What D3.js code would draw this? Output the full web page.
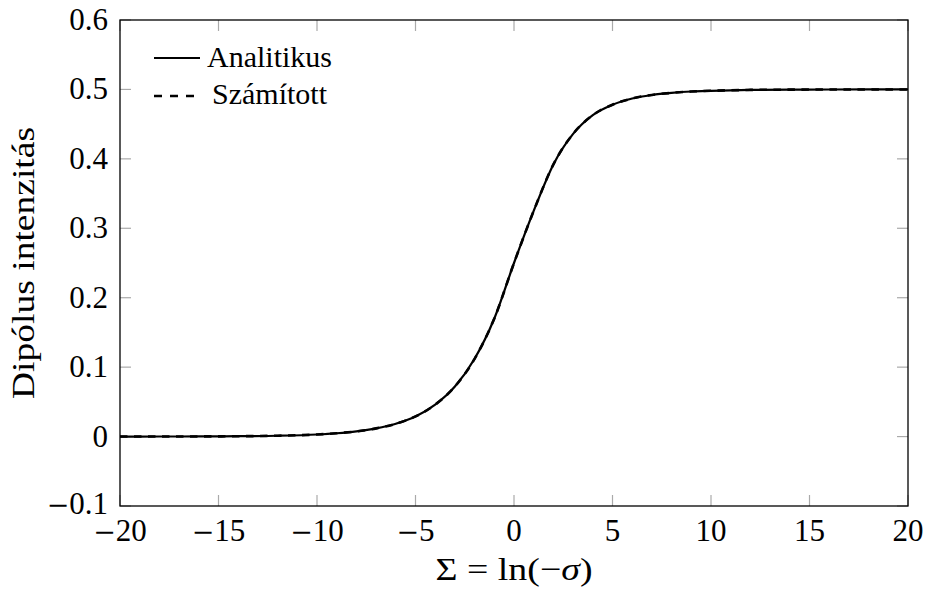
<!DOCTYPE html>
<html>
<head>
<meta charset="utf-8">
<script src="https://cdn.jsdelivr.net/npm/d3@7"></script>
<style>
  html, body { margin: 0; padding: 0; background: #fff; }
  svg { display: block; }
  text { font-family: "Liberation Serif", "Times New Roman", serif; fill: #000; }
  .minus { font-family: "DejaVu Serif", serif; }
</style>
</head>
<body>
<svg id="chart" width="925" height="589"></svg>
<script>
// ---- data ----
const sigmaValues = [-20, -18, -16, -14, -12, -10, -9, -8, -7, -6, -5, -4, -3, -2, -1, 0, 1, 2, 3, 4, 5, 6, 7, 8, 9, 10, 12, 14, 16, 20];
const analitikus  = [0.0000, 0.0001, 0.0002, 0.0005, 0.0012, 0.0030, 0.0048, 0.0075, 0.0118, 0.0185, 0.029, 0.046, 0.072, 0.112, 0.170, 0.250, 0.325, 0.392, 0.436, 0.463, 0.478, 0.487, 0.492, 0.495, 0.497, 0.498, 0.4993, 0.4997, 0.4999, 0.5000];
const szamitott   = [0.0000, 0.0001, 0.0002, 0.0005, 0.0012, 0.0030, 0.0048, 0.0075, 0.0118, 0.0185, 0.029, 0.046, 0.072, 0.112, 0.170, 0.250, 0.325, 0.392, 0.436, 0.463, 0.478, 0.487, 0.492, 0.495, 0.497, 0.498, 0.4993, 0.4997, 0.4999, 0.5000];
const xTicks = [-20, -15, -10, -5, 0, 5, 10, 15, 20];
const yTicks = [-0.1, 0, 0.1, 0.2, 0.3, 0.4, 0.5, 0.6];
const seriesNames = ["Analitikus", "Számított"];

// ---- layout ----
const svg = d3.select("#chart");
const L = 120, R = 908, T = 20, B = 506;
const x = d3.scaleLinear().domain([-20, 20]).range([L, R]);
const y = d3.scaleLinear().domain([-0.1, 0.6]).range([B, T]);
const tickLen = 11;
const fs = 31;

svg.append("defs").append("clipPath").attr("id", "plotclip")
  .append("rect").attr("x", L).attr("y", T).attr("width", R - L).attr("height", B - T);

// ticks (inside, mirrored on all sides)
const tickG = svg.append("g").attr("stroke", "#aaaaaa").attr("stroke-width", 1.2);
xTicks.forEach(v => {
  const px = x(v);
  tickG.append("line").attr("x1", px).attr("x2", px).attr("y1", B).attr("y2", B - tickLen);
  tickG.append("line").attr("x1", px).attr("x2", px).attr("y1", T).attr("y2", T + tickLen);
});
yTicks.forEach(v => {
  const py = y(v);
  tickG.append("line").attr("x1", L).attr("x2", L + tickLen).attr("y1", py).attr("y2", py);
  tickG.append("line").attr("x1", R).attr("x2", R - tickLen).attr("y1", py).attr("y2", py);
});

// tick labels (wide TeX-like minus sign)
const absStr = v => String(Math.abs(+v.toFixed(2)));
function labelInto(sel) {
  sel.each(function(d) {
    const t = d3.select(this);
    if (d < 0) {
      t.append("tspan").attr("class", "minus").attr("font-size", 27).text("\u2212");
      t.append("tspan").text(absStr(d));
    } else {
      t.text(absStr(d));
    }
  });
}
svg.append("g").selectAll("text").data(xTicks).join("text")
  .attr("x", d => x(d)).attr("y", B + 35)
  .attr("text-anchor", "middle").attr("font-size", fs)
  .call(labelInto);
svg.append("g").selectAll("text").data(yTicks).join("text")
  .attr("x", L - 12).attr("y", d => y(d) + (d < 0 ? 8 : 10))
  .attr("text-anchor", "end").attr("font-size", fs)
  .call(labelInto);

// curves
const rows = (vals) => sigmaValues.map((s, i) => ({ s, v: vals[i] }));
const line = d3.line().x(d => x(d.s)).y(d => y(d.v)).curve(d3.curveMonotoneX);
const curves = svg.append("g").attr("clip-path", "url(#plotclip)");
curves.append("path").datum(rows(analitikus)).attr("d", line)
  .attr("fill", "none").attr("stroke", "#000").attr("stroke-width", 2.2);
curves.append("path").datum(rows(szamitott)).attr("d", line)
  .attr("fill", "none").attr("stroke", "#000").attr("stroke-width", 2.6)
  .attr("stroke-dasharray", "7.5,6.5");

// frame
svg.append("rect").attr("x", L).attr("y", T).attr("width", R - L).attr("height", B - T)
  .attr("fill", "none").attr("stroke", "#000").attr("stroke-width", 1.3);

// legend
const lg = svg.append("g");
lg.append("line").attr("x1", 154).attr("x2", 200).attr("y1", 58).attr("y2", 58)
  .attr("stroke", "#000").attr("stroke-width", 2);
lg.append("text").attr("x", 207).attr("y", 67).attr("font-size", 30).text(seriesNames[0]);
lg.append("line").attr("x1", 154).attr("x2", 194).attr("y1", 96).attr("y2", 96)
  .attr("stroke", "#000").attr("stroke-width", 2.6).attr("stroke-dasharray", "8,8");
lg.append("text").attr("x", 212).attr("y", 104).attr("font-size", 30).text(seriesNames[1]);

// axis titles
const xt = svg.append("text").attr("x", (L + R) / 2).attr("y", 580)
  .attr("text-anchor", "middle").attr("font-size", 32)
  .attr("textLength", 157).attr("lengthAdjust", "spacingAndGlyphs");
xt.append("tspan").text("\u03A3 = ln(\u2212");
xt.append("tspan").attr("font-style", "italic").text("\u03C3");
xt.append("tspan").text(")");

svg.append("text")
  .attr("transform", `translate(34,${(T + B) / 2}) rotate(-90)`)
  .attr("text-anchor", "middle").attr("font-size", 32)
  .attr("textLength", 272).attr("lengthAdjust", "spacingAndGlyphs")
  .text("Dipólus intenzitás");
</script>
</body>
</html>
